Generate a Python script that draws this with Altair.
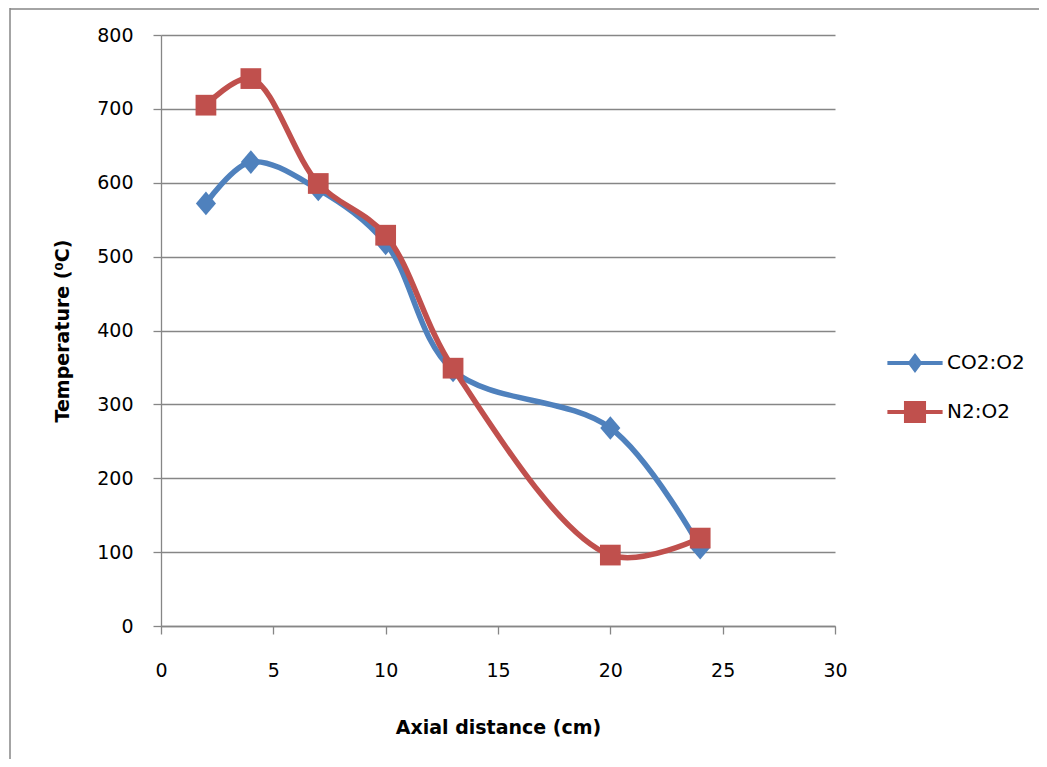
import altair as alt
import pandas as pd

# ---- data ----
axial_cm = [2, 4, 7, 10, 13, 20, 24]
co2_o2 = [572, 628, 591, 518, 346, 268, 106]
n2_o2 = [705, 741, 599, 529, 349, 96, 119]
series_names = ["CO2:O2", "N2:O2"]
series_colors = ["#4F81BD", "#C0504D"]
x_ticks = [0, 5, 10, 15, 20, 25, 30]
y_ticks = [0, 100, 200, 300, 400, 500, 600, 700, 800]

rows = []
for x, v in zip(axial_cm, co2_o2):
    rows.append({"x": x, "T": v, "series": series_names[0]})
for x, v in zip(axial_cm, n2_o2):
    rows.append({"x": x, "T": v, "series": series_names[1]})
df = pd.DataFrame(rows)

W, H = 674, 591
PAD = {"left": 153, "top": 27, "right": 204, "bottom": 133}

FONT = "DejaVu Sans"
GRID = "#868686"

# legend symbols: line segment with marker (unit coords)
leg_diamond = ("M-1.15,-0.085L-0.247,-0.085L0,-0.42L0.247,-0.085L1.15,-0.085"
               "L1.15,0.085L0.247,0.085L0,0.42L-0.247,0.085L-1.15,0.085Z")
leg_square = ("M-1.15,-0.085L-0.46,-0.085L-0.46,-0.46L0.46,-0.46L0.46,-0.085"
              "L1.15,-0.085L1.15,0.085L0.46,0.085L0.46,0.46L-0.46,0.46"
              "L-0.46,0.085L-1.15,0.085Z")
marker_diamond = "M-0.85,0L0,-1L0.85,0L0,1Z"

x_enc = alt.X("x:Q", scale=alt.Scale(domain=[0, 30], nice=False),
              axis=alt.Axis(values=x_ticks, grid=False, tickSize=8,
                            tickColor=GRID, tickWidth=1.3,
                            domainColor=GRID, domainWidth=1.3,
                            labelFont=FONT, labelFontSize=19, labelColor="black",
                            labelPadding=27, labelFlush=False, labelOverlap=False,
                            title="Axial distance (cm)", titleFont=FONT,
                            titleFontSize=19, titleFontWeight="bold",
                            titleColor="black", titleX=W / 2, titleY=107,
                            titleAlign="center", titleBaseline="alphabetic"))
y_enc = alt.Y("T:Q", scale=alt.Scale(domain=[0, 800], nice=False),
              axis=alt.Axis(values=y_ticks, grid=True, gridColor=GRID,
                            gridWidth=1.3, tickSize=8, tickColor=GRID,
                            tickWidth=1.3, domainColor=GRID, domainWidth=1.3,
                            labelFont=FONT, labelFontSize=19, labelColor="black",
                            labelPadding=20, labelOverlap=False,
                            title="Temperature (\u2070C)", titleFont=FONT,
                            titleFontSize=19, titleFontWeight="bold",
                            titleColor="black", titleAngle=270, titleX=-93,
                            titleY=H / 2, titleAlign="center",
                            titleBaseline="alphabetic"))

base = alt.Chart(df).encode(x=x_enc, y=y_enc)

layers = []
shapes = [marker_diamond, "square"]
sizes = [560, 430]
for name, col, shp, sz in zip(series_names, series_colors, shapes, sizes):
    sub = base.transform_filter(alt.datum.series == name)
    layers.append(sub.mark_line(interpolate="catmull-rom", strokeWidth=5.5,
                                strokeCap="round", strokeJoin="round",
                                color=col))
    layers.append(sub.mark_point(shape=shp, filled=True, size=sz, opacity=1,
                                 strokeWidth=0, color=col))

legend_props = dict(title=None, orient="none", legendX=730, legendY=304,
                    padding=0, rowPadding=14, symbolSize=2304, symbolOpacity=1,
                    symbolStrokeWidth=0, labelOffset=8, labelFont=FONT,
                    labelFontSize=20, labelColor="black", labelLimit=200)

# invisible layer that carries the legend (line + marker symbols)
legend_layer = alt.Chart(df).mark_point(filled=True, opacity=0).encode(
    x=alt.X("x:Q"), y=alt.Y("T:Q"),
    color=alt.Color("series:N",
                    scale=alt.Scale(domain=series_names, range=series_colors),
                    legend=alt.Legend(**legend_props)),
    shape=alt.Shape("series:N",
                    scale=alt.Scale(domain=series_names,
                                    range=[leg_diamond, leg_square]),
                    legend=alt.Legend(**legend_props)),
)

# outer frame of the chart area (left and top edges visible in reference)
frame_data = alt.Data(values=[{"k": 1}])
frame_left = alt.Chart(frame_data).mark_rule(color=GRID, strokeWidth=1.5).encode(
    x=alt.value(-151), y=alt.value(-27), y2=alt.value(H + PAD["bottom"]))
frame_top = alt.Chart(frame_data).mark_rule(color=GRID, strokeWidth=1.5).encode(
    y=alt.value(-26), x=alt.value(-151), x2=alt.value(W + PAD["right"]))

chart = alt.layer(*layers, legend_layer, frame_left, frame_top).properties(
    width=W, height=H,
    autosize=alt.AutoSizeParams(type="none"),
    padding=PAD,
    background="white",
).configure_view(stroke=None)

chart.save("out.html", embed_options={"renderer": "svg", "actions": False})
